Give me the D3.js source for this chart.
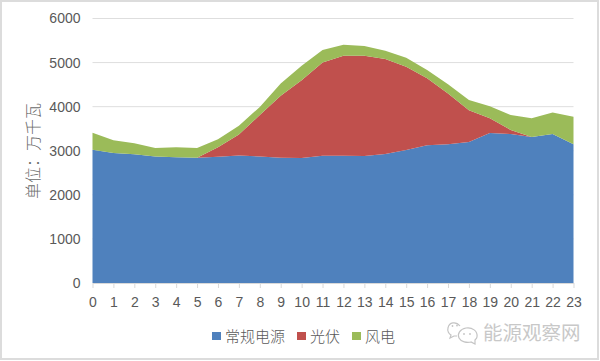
<!DOCTYPE html>
<html>
<head>
<meta charset="utf-8">
<script src="https://cdn.jsdelivr.net/npm/d3@7"></script>
<style>
  html, body { margin: 0; padding: 0; background: #fff; }
  svg { display: block; }
  text { font-family: "Liberation Sans", "Noto Sans CJK SC", sans-serif; }
  .cjk { font-family: "Noto Sans CJK SC", sans-serif; }
</style>
</head>
<body>
<div id="chart"></div>
<script>
// Values
const hours = d3.range(0, 24);
const seriesNames = ['常规电源', '光伏', '风电'];
const seriesColors = ['#4f81bd', '#c0504d', '#9bbb59'];
const conventional = [3020, 2950, 2920, 2870, 2850, 2840, 2865, 2890, 2870, 2840, 2835, 2887, 2887, 2880, 2925, 3016, 3125, 3150, 3197, 3400, 3380, 3310, 3380, 3150];
const solar = [0, 0, 0, 0, 0, 0, 215, 480, 940, 1410, 1765, 2113, 2268, 2275, 2155, 1889, 1520, 1150, 723, 335, 90, 0, 0, 0];
const wind = [390, 290, 250, 190, 230, 220, 180, 195, 185, 275, 330, 285, 250, 220, 190, 205, 185, 210, 230, 275, 340, 430, 490, 620];
const yTicks = [0, 1000, 2000, 3000, 4000, 5000, 6000];
const yLabel = '单位：万千瓦';
const watermark = '能源观察网';

const width = 600;
const height = 361;
const plot = { left: 92.5, right: 573.5, top: 18.5, bottom: 283 };

const svg = d3.select('#chart').append('svg')
  .attr('width', width)
  .attr('height', height);

// Outer frame of the screenshot
svg.append('rect')
  .attr('x', 1)
  .attr('y', 1)
  .attr('width', 597)
  .attr('height', 358)
  .attr('fill', '#fff')
  .attr('stroke', '#dcdcdc')
  .attr('stroke-width', 2);

const x = d3.scaleLinear().domain([0, 23]).range([plot.left, plot.right]);
const y = d3.scaleLinear().domain([0, 6000]).range([plot.bottom, plot.top]);

// Gridlines + y axis
const yAxis = d3.axisLeft(y)
  .tickValues(yTicks)
  .tickSize(0)
  .tickPadding(12)
  .tickFormat(d3.format('d'));

const yG = svg.append('g')
  .attr('transform', `translate(${plot.left},0)`)
  .call(yAxis);
yG.select('.domain').remove();
yG.selectAll('text')
  .attr('fill', '#595959')
  .attr('font-size', 14);

svg.append('g')
  .selectAll('line')
  .data(yTicks.slice(1))
  .join('line')
  .attr('x1', plot.left)
  .attr('x2', plot.right)
  .attr('y1', d => y(d))
  .attr('y2', d => y(d))
  .attr('stroke', '#dedede')
  .attr('stroke-width', 1);

// Stacked areas
const table = hours.map((h, i) => ({
  hour: h,
  [seriesNames[0]]: conventional[i],
  [seriesNames[1]]: solar[i],
  [seriesNames[2]]: wind[i]
}));
const stacked = d3.stack().keys(seriesNames)(table);

const area = d3.area()
  .x(d => x(d.data.hour))
  .y0(d => y(d[0]))
  .y1(d => y(d[1]));

svg.append('g')
  .selectAll('path')
  .data(stacked)
  .join('path')
  .attr('d', area)
  .attr('fill', (d, i) => seriesColors[i]);

// X axis
const xAxis = d3.axisBottom(x)
  .tickValues(hours)
  .tickSize(5)
  .tickSizeOuter(0)
  .tickPadding(9)
  .tickFormat(d3.format('d'));

const xG = svg.append('g')
  .attr('transform', `translate(0,${plot.bottom})`)
  .call(xAxis);
xG.select('.domain').attr('stroke', '#d9d9d9');
xG.selectAll('line').attr('stroke', '#d9d9d9');
xG.selectAll('text')
  .attr('fill', '#595959')
  .attr('font-size', 14);

// Y axis title
svg.append('text')
  .attr('class', 'cjk')
  .attr('transform', 'translate(32,151) rotate(-90)')
  .attr('text-anchor', 'middle')
  .attr('dominant-baseline', 'central')
  .attr('fill', '#6a6a6a')
  .attr('font-size', 16)
  .attr('font-weight', 300)
  .text(yLabel);

// Legend
const legendX = [212, 297, 352];
const legend = svg.append('g')
  .selectAll('g')
  .data(seriesNames)
  .join('g')
  .attr('transform', (d, i) => `translate(${legendX[i]},332)`);
legend.append('rect')
  .attr('width', 9)
  .attr('height', 8)
  .attr('fill', (d, i) => seriesColors[i]);
legend.append('text')
  .attr('class', 'cjk')
  .attr('x', 13)
  .attr('y', 3)
  .attr('dominant-baseline', 'central')
  .attr('fill', '#595959')
  .attr('font-size', 15)
  .attr('font-weight', 300)
  .text(d => d);

// Watermark: chat bubbles + site name
const mark = svg.append('g')
  .attr('fill', 'none')
  .attr('stroke', '#c4c4c4')
  .attr('stroke-width', 1.2);
mark.append('path')
  .attr('d', 'M460,326 C456,321 449,322 448,328 C447,331 449,334 451,335 L450,338 L454,336 C455,336 456,336 457,336');
mark.append('path')
  .attr('d', 'M477,337 C478,331 472,327 466,328 C460,329 457,334 459,338 C461,342 467,343 471,342 L475,344 L475,340 C476,339 477,338 477,337 Z');
mark.selectAll('circle')
  .data([[452.5, 326], [457, 325.5], [464, 334], [470, 334]])
  .join('circle')
  .attr('cx', d => d[0])
  .attr('cy', d => d[1])
  .attr('r', 0.9)
  .attr('fill', '#c4c4c4')
  .attr('stroke', 'none');

svg.append('text')
  .attr('class', 'cjk')
  .attr('x', 483)
  .attr('y', 331)
  .attr('dominant-baseline', 'central')
  .attr('fill', '#c8c8c8')
  .attr('font-size', 19.5)
  .text(watermark);
</script>
</body>
</html>
